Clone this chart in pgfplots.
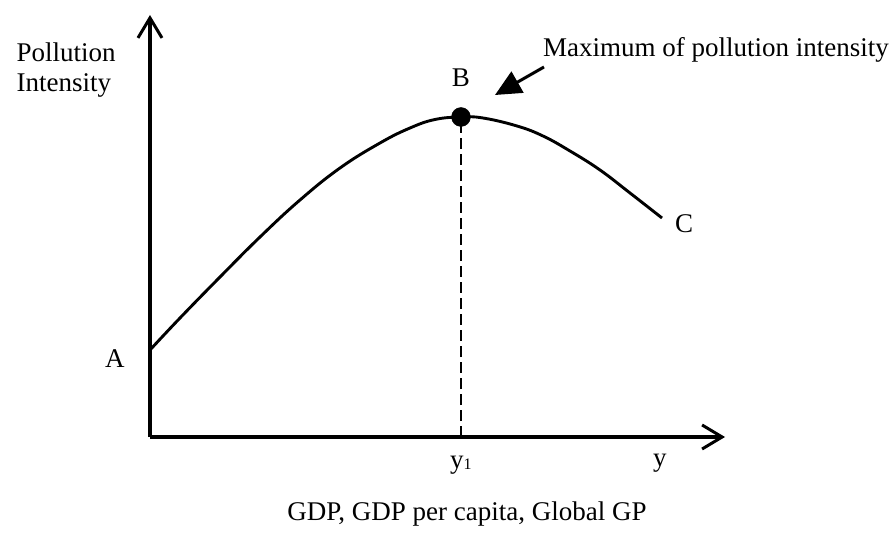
\documentclass[border=0pt]{standalone}
\usepackage{pgfplots}
\pgfplotsset{compat=1.18}
\usetikzlibrary{arrows.meta}
\usepackage{fontspec}
\setmainfont{Liberation Serif}
\begin{document}
\begin{tikzpicture}
\begin{axis}[
  scale only axis,
  width=575pt, height=422pt,
  xmin=0, xmax=575, ymin=0, ymax=422,
  axis lines=left,
  xtick=\empty, ytick=\empty,
  clip=false,
  axis line style={line width=3.2pt},
  x axis line style={-{Straight Barb[length=20pt,width=24pt,line width=3pt]}},
  y axis line style={-{Straight Barb[length=20pt,width=24pt,line width=3pt]}},
  font=\fontsize{27}{30}\selectfont,
]
\path (axis cs:-150,-99) rectangle (axis cs:745,437);
% curve
\addplot[line width=2.9pt, smooth, tension=0.7, no marks] coordinates {
(0,87) (30,119) (70,160) (110,200) (150,237) (190,269) (230,294) (260,309) (285,317.5) (311,320)
(333,319) (367,311) (393,301) (420,286) (450,267) (480,244) (512,219)
};
% dashed line
\addplot[line width=2.8pt, dash pattern=on 11pt off 5pt, no marks] coordinates {(311,0) (311,320)};
% maximum point
\addplot[only marks, mark=*, mark size=9.5pt, black] coordinates {(311,320)};
% labels
\node[anchor=base west] at (axis cs:-137,375) {Pollution};
\node[anchor=base west] at (axis cs:-137,345) {Intensity};
\node[anchor=base] at (axis cs:311,350) {B};
\node[anchor=base west,inner sep=0pt] at (axis cs:-45,70) {A};
\node[anchor=base west,inner sep=0pt] at (axis cs:525,204) {C};
\node[anchor=base west,inner sep=0pt] at (axis cs:393,380) {Maximum of pollution intensity};
\node[anchor=base west,inner sep=0pt] at (axis cs:300,-31) {y\raisebox{-1pt}{\fontsize{16}{16}\selectfont 1}};
\node[anchor=base west,inner sep=0pt] at (axis cs:503,-29) {y};
\node[anchor=base,inner sep=0pt] at (axis cs:317,-83) {GDP, GDP per capita, Global GP};
\draw[line width=3pt, -{Triangle[length=26pt,width=24pt]}] (axis cs:394,370) -- (axis cs:345,342);
\end{axis}
\end{tikzpicture}
\end{document}
